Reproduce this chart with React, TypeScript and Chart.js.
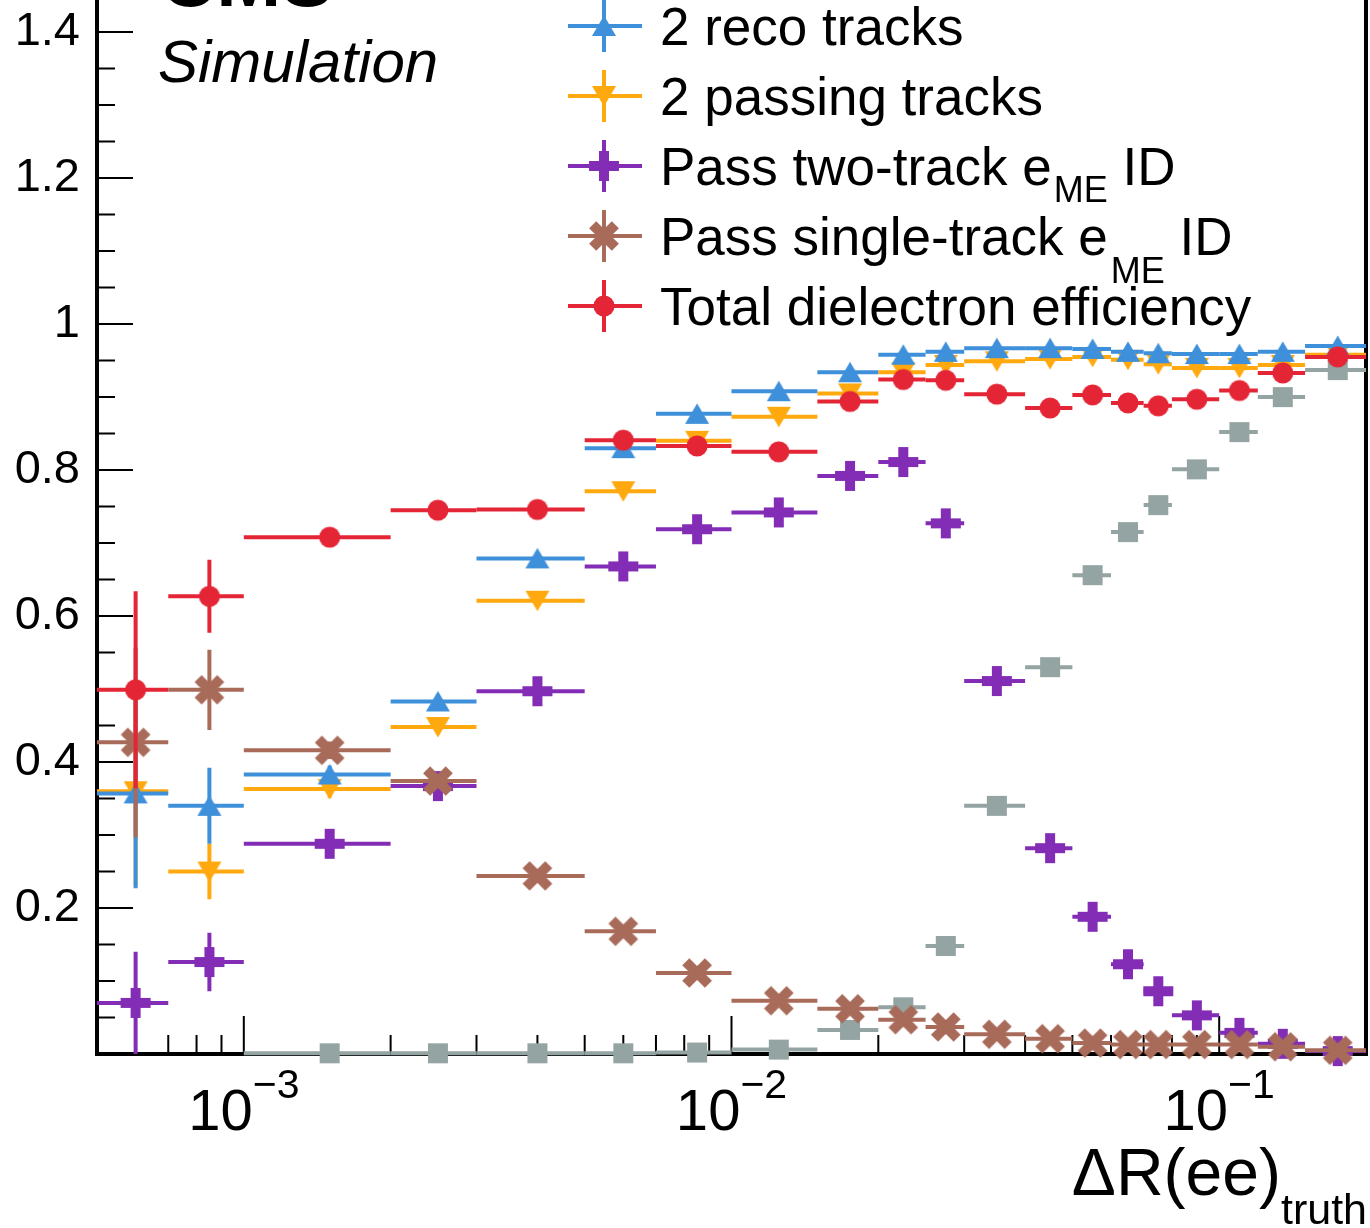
import React, { useEffect, useRef } from "react";
import { Chart, registerables } from "chart.js";

Chart.register(...registerables);

// ---------------- data ----------------
const binEdges = [0.0005, 0.0007, 0.001, 0.002, 0.003, 0.005, 0.007, 0.01, 0.015, 0.02, 0.025, 0.03, 0.04, 0.05, 0.06, 0.07, 0.08, 0.1, 0.12, 0.15, 0.2];

const grayEff = [null, null, 0.001, 0.001, 0.001, 0.001, 0.002, 0.006, 0.033, 0.064, 0.148, 0.34, 0.53, 0.656, 0.715, 0.752, 0.801, 0.852, 0.9, 0.937];
const grayErr = [0, 0, 0.001, 0.001, 0.001, 0.001, 0.001, 0.002, 0.004, 0.005, 0.006, 0.007, 0.007, 0.006, 0.006, 0.006, 0.005, 0.004, 0.004, 0.003];

const recoEff = [0.357, 0.34, 0.383, 0.483, 0.679, 0.83, 0.877, 0.908, 0.934, 0.958, 0.962, 0.967, 0.967, 0.966, 0.962, 0.96, 0.959, 0.959, 0.962, 0.97];
const recoErr = [0.13, 0.052, 0.012, 0.01, 0.008, 0.006, 0.005, 0.004, 0.004, 0.003, 0.003, 0.003, 0.003, 0.003, 0.003, 0.003, 0.003, 0.003, 0.003, 0.003];

const passEff = [0.36, 0.25, 0.363, 0.448, 0.621, 0.771, 0.84, 0.873, 0.905, 0.934, 0.944, 0.949, 0.952, 0.955, 0.951, 0.945, 0.94, 0.94, 0.944, 0.958];
const passErr = [0.13, 0.038, 0.012, 0.01, 0.008, 0.006, 0.005, 0.004, 0.004, 0.003, 0.003, 0.003, 0.003, 0.003, 0.003, 0.003, 0.003, 0.003, 0.003, 0.003];

const twoTrackEff = [0.07, 0.126, 0.288, 0.367, 0.497, 0.668, 0.719, 0.742, 0.792, 0.811, 0.727, 0.511, 0.282, 0.188, 0.123, 0.086, 0.053, 0.029, 0.014, 0.004];
const twoTrackErr = [0.07, 0.04, 0.012, 0.01, 0.008, 0.007, 0.006, 0.005, 0.005, 0.005, 0.005, 0.006, 0.005, 0.004, 0.004, 0.003, 0.003, 0.002, 0.002, 0.001];

const singleTrackEff = [0.427, 0.499, 0.416, 0.374, 0.244, 0.168, 0.111, 0.073, 0.062, 0.047, 0.037, 0.027, 0.021, 0.015, 0.013, 0.013, 0.013, 0.013, 0.01, 0.005];
const singleTrackErr = [0.13, 0.055, 0.012, 0.01, 0.007, 0.005, 0.004, 0.003, 0.003, 0.003, 0.002, 0.002, 0.002, 0.002, 0.002, 0.002, 0.002, 0.002, 0.002, 0.001];

const totalEff = [0.499, 0.627, 0.708, 0.745, 0.746, 0.841, 0.833, 0.825, 0.894, 0.924, 0.923, 0.904, 0.885, 0.903, 0.892, 0.888, 0.897, 0.909, 0.933, 0.955];
const totalErr = [0.135, 0.05, 0.01, 0.008, 0.008, 0.007, 0.006, 0.006, 0.005, 0.004, 0.005, 0.005, 0.005, 0.004, 0.005, 0.005, 0.005, 0.004, 0.004, 0.004];

const seriesLabels = ["", "2 reco tracks", "2 passing tracks", "Pass two-track e_ME ID", "Pass single-track e_ME ID", "Total dielectron efficiency"];
const yTickValues = [0.2, 0.4, 0.6, 0.8, 1.0, 1.2, 1.4];
const xDecadeExponents = [-3, -2, -1];
const xAxisTitle = "ΔR(ee)";
const xAxisTitleSub = "truth";
const cmsLabel = "CMS";
const cmsExtra = "Simulation";

// ---------------- styling ----------------
const FONT = "'Liberation Sans', Arial, Helvetica, sans-serif";
const X_MIN = 0.0005;
const X_MAX = 0.2;
const Y_MAX = 1.444;

const binCenters = binEdges.slice(0, -1).map((e, i) => (e + binEdges[i + 1]) / 2);

function makeMarker(kind: string, color: string): HTMLCanvasElement {
  const S = 40;
  const c = document.createElement("canvas");
  c.width = S;
  c.height = S;
  const g = c.getContext("2d") as CanvasRenderingContext2D;
  const m = S / 2;
  g.fillStyle = color;
  g.beginPath();
  if (kind === "circle") {
    g.arc(m, m, 10.5, 0, Math.PI * 2);
  } else if (kind === "triUp") {
    g.moveTo(m, m - 10.5);
    g.lineTo(m + 12, m + 10);
    g.lineTo(m - 12, m + 10);
    g.closePath();
  } else if (kind === "triDown") {
    g.moveTo(m, m + 10.5);
    g.lineTo(m + 12, m - 10);
    g.lineTo(m - 12, m - 10);
    g.closePath();
  } else if (kind === "square") {
    g.rect(m - 10, m - 10, 20, 20);
  } else {
    const L = kind === "plus" ? 15 : 16;
    const t = 5;
    g.translate(m, m);
    if (kind === "xcross") g.rotate(Math.PI / 4);
    const pts = [[-t, -L], [t, -L], [t, -t], [L, -t], [L, t], [t, t], [t, L], [-t, L], [-t, t], [-L, t], [-L, -t], [-t, -t]];
    pts.forEach(([x, y], i) => (i ? g.lineTo(x, y) : g.moveTo(x, y)));
    g.closePath();
  }
  g.fill();
  return c;
}

type Series = { label: string; values: (number | null)[]; errors: number[]; color: string; marker: string; order: number; inLegend: boolean };

const seriesList: Series[] = [
  { label: seriesLabels[0], values: grayEff, errors: grayErr, color: "#94a4a2", marker: "square", order: 5, inLegend: false },
  { label: seriesLabels[1], values: recoEff, errors: recoErr, color: "#3f90da", marker: "triUp", order: 3, inLegend: true },
  { label: seriesLabels[2], values: passEff, errors: passErr, color: "#ffa90e", marker: "triDown", order: 4, inLegend: true },
  { label: seriesLabels[3], values: twoTrackEff, errors: twoTrackErr, color: "#832db6", marker: "plus", order: 2, inLegend: true },
  { label: seriesLabels[4], values: singleTrackEff, errors: singleTrackErr, color: "#a96b59", marker: "xcross", order: 1, inLegend: true },
  { label: seriesLabels[5], values: totalEff, errors: totalErr, color: "#e42536", marker: "circle", order: 0, inLegend: true },
];

let markerCache: HTMLCanvasElement[] | null = null;
function markers() {
  if (!markerCache) markerCache = seriesList.map((s) => makeMarker(s.marker, s.color));
  return markerCache;
}

const errorBarPlugin = {
  id: "errorBars",
  beforeDatasetDraw(chart: any, args: any) {
    const s = seriesList[args.index];
    if (!s) return;
    const ctx = chart.ctx as CanvasRenderingContext2D;
    const xs = chart.scales.x;
    const ys = chart.scales.y;
    ctx.save();
    ctx.strokeStyle = s.color;
    ctx.lineWidth = 4;
    ctx.lineCap = "butt";
    s.values.forEach((v, i) => {
      if (v == null) return;
      const y = ys.getPixelForValue(v);
      const x0 = xs.getPixelForValue(binEdges[i]);
      const x1 = xs.getPixelForValue(binEdges[i + 1]);
      const xc = xs.getPixelForValue(binCenters[i]);
      const e = s.errors[i];
      const yT = ys.getPixelForValue(Math.min(v + e, Y_MAX));
      const yB = ys.getPixelForValue(Math.max(v - e, 0));
      ctx.beginPath();
      ctx.moveTo(x0, y);
      ctx.lineTo(x1, y);
      ctx.moveTo(xc, yT);
      ctx.lineTo(xc, yB);
      ctx.stroke();
    });
    ctx.restore();
  },
};

const framePlugin = {
  id: "rootFrame",
  beforeDatasetsDraw(chart: any) {
    const ctx = chart.ctx as CanvasRenderingContext2D;
    const { left, right, top, bottom } = chart.chartArea;
    const xs = chart.scales.x;
    const ys = chart.scales.y;
    ctx.save();
    ctx.strokeStyle = "#000";
    ctx.lineWidth = 2;
    ctx.beginPath();
    for (let k = 1; k * 0.05 < Y_MAX; k++) {
      const y = ys.getPixelForValue(k * 0.05);
      const len = k % 4 === 0 ? 36 : 18;
      ctx.moveTo(left, y);
      ctx.lineTo(left + len, y);
    }
    for (let d = -4; d <= -1; d++) {
      for (let m = 1; m <= 9; m++) {
        const v = m * Math.pow(10, d);
        if (v <= X_MIN * 1.0001 || v >= X_MAX * 0.9999) continue;
        const x = xs.getPixelForValue(v);
        const len = m === 1 ? 38 : 19;
        ctx.moveTo(x, bottom);
        ctx.lineTo(x, bottom - len);
      }
    }
    ctx.stroke();
    ctx.lineWidth = 4;
    ctx.beginPath();
    ctx.moveTo(left, top);
    ctx.lineTo(left, bottom + 2);
    ctx.moveTo(left - 2, bottom);
    ctx.lineTo(right + 2, bottom);
    ctx.moveTo(right, bottom);
    ctx.lineTo(right, top);
    ctx.stroke();
    ctx.restore();
  },
};

type Run = { text: string; size: number; dy: number; dx?: number; style?: string };

function drawRuns(ctx: CanvasRenderingContext2D, x: number, y: number, runs: Run[], align: "left" | "center" | "right") {
  const widths = runs.map((r) => {
    ctx.font = `${r.style || ""} ${r.size}px ${FONT}`;
    return ctx.measureText(r.text).width + (r.dx || 0);
  });
  const total = widths.reduce((a, b) => a + b, 0);
  let cx = align === "left" ? x : align === "center" ? x - total / 2 : x - total;
  ctx.textAlign = "left";
  ctx.textBaseline = "alphabetic";
  runs.forEach((r, i) => {
    ctx.font = `${r.style || ""} ${r.size}px ${FONT}`;
    ctx.fillText(r.text, cx + (r.dx || 0), y + r.dy);
    cx += widths[i];
  });
}

const textPlugin = {
  id: "rootText",
  afterDraw(chart: any) {
    const ctx = chart.ctx as CanvasRenderingContext2D;
    const xs = chart.scales.x;
    ctx.save();
    ctx.fillStyle = "#000";

    // CMS label
    drawRuns(ctx, 160, 6, [{ text: cmsLabel, size: 78, dy: 0, style: "bold" }], "left");
    drawRuns(ctx, 158, 82, [{ text: cmsExtra, size: 60, dy: 0, style: "italic" }], "left");

    // x tick labels
    xDecadeExponents.forEach((p) => {
      const x = xs.getPixelForValue(Math.pow(10, p));
      drawRuns(ctx, x, 1130, [
        { text: "10", size: 58, dy: 0 },
        { text: "\u2212" + Math.abs(p), size: 41, dy: -32 },
      ], "center");
    });

    // x axis title
    drawRuns(ctx, 1367, 1195, [
      { text: xAxisTitle, size: 66, dy: 0 },
      { text: xAxisTitleSub, size: 43, dy: 29 },
    ], "right");

    // legend
    const mk = markers();
    const subOffsets = [
      { dx: 2, dy: 17 },
      { dx: 3, dy: 28 },
    ];
    let row = 0;
    let subRow = 0;
    seriesList.forEach((s, si) => {
      if (!s.inLegend) return;
      const cy = 26 + row * 70;
      ctx.strokeStyle = s.color;
      ctx.lineWidth = 4;
      ctx.beginPath();
      ctx.moveTo(568, cy);
      ctx.lineTo(642, cy);
      ctx.moveTo(604, cy - 26);
      ctx.lineTo(604, cy + 26);
      ctx.stroke();
      const m = mk[si];
      ctx.drawImage(m, 604 - m.width / 2, cy - m.height / 2);
      ctx.fillStyle = "#000";
      const base = cy + 19;
      const parts = s.label.split("_ME");
      if (parts.length === 2) {
        const off = subOffsets[Math.min(subRow, subOffsets.length - 1)];
        drawRuns(ctx, 660, base, [
          { text: parts[0], size: 53, dy: 0 },
          { text: "ME", size: 36, dy: off.dy, dx: off.dx },
          { text: parts[1], size: 53, dy: 0 },
        ], "left");
        subRow++;
      } else {
        drawRuns(ctx, 660, base, [{ text: s.label, size: 53, dy: 0 }], "left");
      }
      row++;
    });
    ctx.restore();
  },
};

export default function App() {
  const canvasRef = useRef<HTMLCanvasElement | null>(null);

  useEffect(() => {
    const canvas = canvasRef.current;
    if (!canvas) return;
    const mk = markers();
    const datasets = seriesList.map((s, si) => ({
      type: "scatter" as const,
      label: s.label,
      data: s.values
        .map((v, i) => (v == null ? null : { x: binCenters[i], y: v }))
        .filter((p) => p !== null),
      pointStyle: mk[si],
      pointRadius: 10,
      pointHoverRadius: 10,
      pointBorderWidth: 0,
      showLine: false,
      order: s.order,
      clip: false as any,
    }));

    const chart = new Chart(canvas, {
      type: "scatter",
      data: { datasets: datasets as any },
      options: {
        animation: false,
        responsive: false,
        devicePixelRatio: 1,
        events: [],
        layout: { autoPadding: false, padding: { left: 0, right: 4, top: 0, bottom: 0 } },
        plugins: { legend: { display: false }, tooltip: { enabled: false } },
        scales: {
          x: {
            type: "logarithmic",
            min: X_MIN,
            max: X_MAX,
            grid: { display: false, drawTicks: false },
            border: { display: false },
            ticks: { display: false },
            afterFit: (s: any) => {
              s.height = 174;
              s.paddingLeft = 0;
              s.paddingRight = 0;
            },
          },
          y: {
            type: "linear",
            min: 0,
            max: Y_MAX,
            grid: { display: false, drawTicks: false },
            border: { display: false },
            afterBuildTicks: (s: any) => {
              s.ticks = yTickValues.map((v) => ({ value: v }));
            },
            ticks: {
              color: "#000",
              padding: 17,
              font: { family: "Liberation Sans", size: 47 },
              callback: (v: any) => {
                const n = Number(v);
                return Math.abs(n - 1) < 1e-9 ? "1" : n.toFixed(1);
              },
            },
            afterFit: (s: any) => {
              s.width = 97;
              s.paddingTop = 0;
              s.paddingBottom = 0;
            },
          },
        },
      },
      plugins: [framePlugin, errorBarPlugin, textPlugin],
    });
    return () => chart.destroy();
  }, []);

  return (
    <div style={{ position: "absolute", left: 0, top: 0, width: 1370, height: 1228, background: "#fff" }}>
      <canvas ref={canvasRef} width={1370} height={1228} style={{ width: 1370, height: 1228, display: "block" }} />
    </div>
  );
}
